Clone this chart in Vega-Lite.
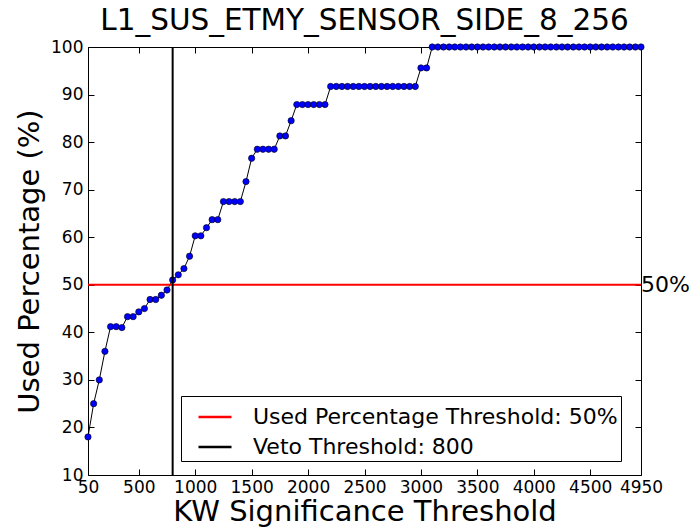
{
  "$schema": "https://vega.github.io/schema/vega-lite/v6.json",
  "width": 553,
  "height": 428,
  "autosize": "none",
  "padding": {"left": 88, "top": 47, "right": 50, "bottom": 53},
  "background": "white",
  "config": {
    "font": "DejaVu Sans",
    "view": {"stroke": "black", "strokeWidth": 1},
    "axis": {"grid": false, "domain": false, "labelFont": "DejaVu Sans", "titleFont": "DejaVu Sans", "labelColor": "black", "titleColor": "black", "tickColor": "black", "labelFontSize": 17, "titleFontSize": 29, "titleFontWeight": "normal", "tickSize": -6, "labelPadding": 11}
  },
  "title": {"text": "L1_SUS_ETMY_SENSOR_SIDE_8_256", "fontSize": 29.5, "fontWeight": "normal", "font": "DejaVu Sans", "color": "black", "offset": 2, "anchor": "middle"},
  "datasets": {
    "series": [
      {"threshold": 50, "used": 18.0}, {"threshold": 100, "used": 25.0}, {"threshold": 150, "used": 30.0}, {"threshold": 200, "used": 36.0},
      {"threshold": 250, "used": 41.2}, {"threshold": 300, "used": 41.2}, {"threshold": 350, "used": 41.0}, {"threshold": 400, "used": 43.3},
      {"threshold": 450, "used": 43.3}, {"threshold": 500, "used": 44.3}, {"threshold": 550, "used": 45.0}, {"threshold": 600, "used": 46.9},
      {"threshold": 650, "used": 46.9}, {"threshold": 700, "used": 47.8}, {"threshold": 750, "used": 48.9}, {"threshold": 800, "used": 51.0},
      {"threshold": 850, "used": 52.1}, {"threshold": 900, "used": 53.4}, {"threshold": 950, "used": 56.0}, {"threshold": 1000, "used": 60.3},
      {"threshold": 1050, "used": 60.3}, {"threshold": 1100, "used": 62.0}, {"threshold": 1150, "used": 63.7}, {"threshold": 1200, "used": 63.7},
      {"threshold": 1250, "used": 67.5}, {"threshold": 1300, "used": 67.5}, {"threshold": 1350, "used": 67.5}, {"threshold": 1400, "used": 67.5},
      {"threshold": 1450, "used": 71.7}, {"threshold": 1500, "used": 76.6}, {"threshold": 1550, "used": 78.5}, {"threshold": 1600, "used": 78.5},
      {"threshold": 1650, "used": 78.5}, {"threshold": 1700, "used": 78.5}, {"threshold": 1750, "used": 81.3}, {"threshold": 1800, "used": 81.3},
      {"threshold": 1850, "used": 84.5}, {"threshold": 1900, "used": 87.9}, {"threshold": 1950, "used": 87.9}, {"threshold": 2000, "used": 87.9},
      {"threshold": 2050, "used": 87.9}, {"threshold": 2100, "used": 87.9}, {"threshold": 2150, "used": 87.9}, {"threshold": 2200, "used": 91.7},
      {"threshold": 2250, "used": 91.7}, {"threshold": 2300, "used": 91.7}, {"threshold": 2350, "used": 91.7}, {"threshold": 2400, "used": 91.7},
      {"threshold": 2450, "used": 91.7}, {"threshold": 2500, "used": 91.7}, {"threshold": 2550, "used": 91.7}, {"threshold": 2600, "used": 91.7},
      {"threshold": 2650, "used": 91.7}, {"threshold": 2700, "used": 91.7}, {"threshold": 2750, "used": 91.7}, {"threshold": 2800, "used": 91.7},
      {"threshold": 2850, "used": 91.7}, {"threshold": 2900, "used": 91.7}, {"threshold": 2950, "used": 91.7}, {"threshold": 3000, "used": 95.6},
      {"threshold": 3050, "used": 95.6}, {"threshold": 3100, "used": 100}, {"threshold": 3150, "used": 100}, {"threshold": 3200, "used": 100},
      {"threshold": 3250, "used": 100}, {"threshold": 3300, "used": 100}, {"threshold": 3350, "used": 100}, {"threshold": 3400, "used": 100},
      {"threshold": 3450, "used": 100}, {"threshold": 3500, "used": 100}, {"threshold": 3550, "used": 100}, {"threshold": 3600, "used": 100},
      {"threshold": 3650, "used": 100}, {"threshold": 3700, "used": 100}, {"threshold": 3750, "used": 100}, {"threshold": 3800, "used": 100},
      {"threshold": 3850, "used": 100}, {"threshold": 3900, "used": 100}, {"threshold": 3950, "used": 100}, {"threshold": 4000, "used": 100},
      {"threshold": 4050, "used": 100}, {"threshold": 4100, "used": 100}, {"threshold": 4150, "used": 100}, {"threshold": 4200, "used": 100},
      {"threshold": 4250, "used": 100}, {"threshold": 4300, "used": 100}, {"threshold": 4350, "used": 100}, {"threshold": 4400, "used": 100},
      {"threshold": 4450, "used": 100}, {"threshold": 4500, "used": 100}, {"threshold": 4550, "used": 100}, {"threshold": 4600, "used": 100},
      {"threshold": 4650, "used": 100}, {"threshold": 4700, "used": 100}, {"threshold": 4750, "used": 100}, {"threshold": 4800, "used": 100},
      {"threshold": 4850, "used": 100}, {"threshold": 4900, "used": 100}, {"threshold": 4950, "used": 100}
    ]
  },
  "layer": [
    {
      "data": {"name": "series"},
      "mark": {"type": "line", "color": "black", "strokeWidth": 1},
      "encoding": {
        "x": {"field": "threshold", "type": "quantitative", "scale": {"domain": [50, 4950], "nice": false, "zero": false},
              "axis": {"orient": "bottom", "title": "KW Significance Threshold", "format": "d", "values": [50, 500, 1000, 1500, 2000, 2500, 3000, 3500, 4000, 4500, 4950], "labelPadding": 10, "titlePadding": 2, "labelFlush": false, "labelOverlap": false}},
        "y": {"field": "used", "type": "quantitative", "scale": {"domain": [10, 100], "nice": false, "zero": false},
              "axis": {"orient": "left", "title": "Used Percentage (%)", "values": [10, 20, 30, 40, 50, 60, 70, 80, 90, 100], "titlePadding": 6, "labelFlush": false, "labelOverlap": false}}
      }
    },
    {
      "data": {"name": "series"},
      "mark": {"type": "point", "filled": true, "fill": "#0000ff", "stroke": "black", "strokeWidth": 0.6, "size": 40, "opacity": 1},
      "encoding": {
        "x": {"field": "threshold", "type": "quantitative",
              "axis": {"orient": "top", "title": null, "labels": false, "values": [50, 500, 1000, 1500, 2000, 2500, 3000, 3500, 4000, 4500, 4950]}},
        "y": {"field": "used", "type": "quantitative",
              "axis": {"orient": "right", "title": null, "labels": false, "values": [10, 20, 30, 40, 50, 60, 70, 80, 90, 100]}}
      }
    },
    {
      "data": {"values": [{"label": "Used Percentage Threshold: 50%", "level": 50}]},
      "mark": {"type": "rule", "strokeWidth": 2},
      "encoding": {
        "y": {"field": "level", "type": "quantitative", "axis": null},
        "color": {"field": "label", "type": "nominal",
                  "scale": {"domain": ["Used Percentage Threshold: 50%", "Veto Threshold: 800"], "range": ["#ff0000", "#000000"]},
                  "legend": {"title": null, "orient": "none", "legendX": 93, "legendY": 349, "symbolType": "stroke", "symbolSize": 1089, "symbolStrokeWidth": 2.5,
                             "labelFontSize": 22, "labelFont": "DejaVu Sans", "labelColor": "black", "labelOffset": 20, "padding": 3, "symbolOffset": 13,
                             "rowPadding": 1, "strokeColor": "black", "fillColor": "white", "labelLimit": 500}}
      }
    },
    {
      "data": {"values": [{"label": "Veto Threshold: 800", "veto": 800}]},
      "mark": {"type": "rule", "strokeWidth": 2},
      "encoding": {
        "x": {"field": "veto", "type": "quantitative", "axis": null},
        "color": {"field": "label", "type": "nominal"}
      }
    },
    {
      "data": {"values": [{"text": "50%", "level": 50, "xpos": 4950}]},
      "mark": {"type": "text", "align": "left", "baseline": "middle", "fontSize": 22, "font": "DejaVu Sans", "color": "black", "dx": 0},
      "encoding": {
        "x": {"field": "xpos", "type": "quantitative", "axis": null},
        "y": {"field": "level", "type": "quantitative", "axis": null},
        "text": {"field": "text"}
      }
    }
  ],
  "resolve": {"axis": {"x": "independent", "y": "independent"}}
}
